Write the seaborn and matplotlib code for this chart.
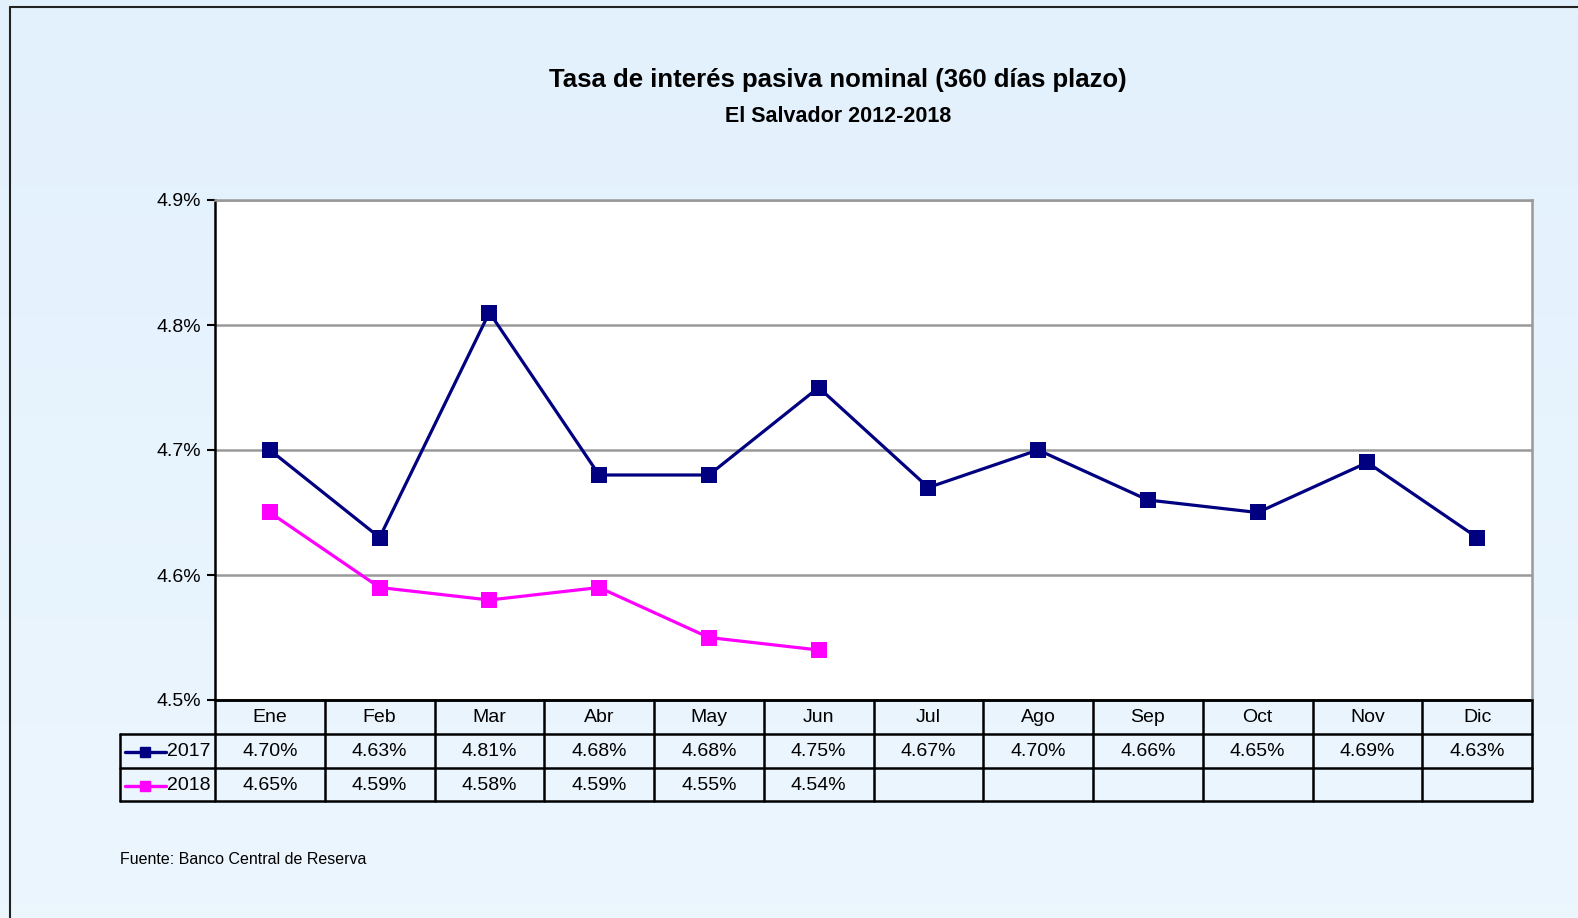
import numpy as np
import pandas as pd
import matplotlib
matplotlib.use("Agg")
import matplotlib.pyplot as plt
import matplotlib.transforms as mtransforms
import seaborn as sns

# data
months = ['Ene', 'Feb', 'Mar', 'Abr', 'May', 'Jun', 'Jul', 'Ago', 'Sep', 'Oct', 'Nov', 'Dic']
rate_2017 = [4.70, 4.63, 4.81, 4.68, 4.68, 4.75, 4.67, 4.70, 4.66, 4.65, 4.69, 4.63]
rate_2018 = [4.65, 4.59, 4.58, 4.59, 4.55, 4.54]
series_names = ['2017', '2018']
series_colors = ['#000080', '#FF00FF']
y_ticks = [4.5, 4.6, 4.7, 4.8, 4.9]

sns.set_style("white")
plt.rcParams['font.family'] = ['Liberation Sans Narrow', 'Liberation Sans', 'DejaVu Sans']
plt.rcParams['text.color'] = 'black'
plt.rcParams['ytick.color'] = 'black'
plt.rcParams['xtick.color'] = 'black'

W, H = 1578, 918
fig = plt.figure(figsize=(W / 100, H / 100), dpi=100)

# gradient background
bg = fig.add_axes([0, 0, 1, 1], zorder=-10)
grad = np.linspace(0, 1, 256).reshape(-1, 1)
top = np.array([0.890, 0.945, 0.992])
bot = np.array([0.925, 0.965, 0.996])
img = top + (bot - top) * grad[:, :, None] * np.ones((1, 1, 3))
bg.imshow(img.reshape(256, 1, 3), aspect='auto', extent=[0, 1, 0, 1])
bg.set_xlim(0, 1)
bg.set_ylim(0, 1)
bg.axis('off')
# outer frame (left and top edges)
bg.plot([10 / W, 10 / W], [0, 1 - 7 / H], color='#222222', lw=1.5)
bg.plot([10 / W, 1], [1 - 7 / H, 1 - 7 / H], color='#222222', lw=1.5)

# plot area in pixels
x0, x1, y_top, y_bot = 215, 1532, 200, 700
ax = fig.add_axes([x0 / W, 1 - y_bot / H, (x1 - x0) / W, (y_bot - y_top) / H])
ax.set_facecolor('white')

df = pd.DataFrame({
    'mes': list(range(len(rate_2017))) + list(range(len(rate_2018))),
    'tasa': rate_2017 + rate_2018,
    'serie': ['2017'] * len(rate_2017) + ['2018'] * len(rate_2018),
})
sns.lineplot(data=df, x='mes', y='tasa', hue='serie', palette=dict(zip(series_names, series_colors)),
             marker='s', markersize=11, markeredgewidth=0, linewidth=2.3, ax=ax, legend=False, zorder=3)

ax.set_xlim(-0.5, len(months) - 0.5)
ax.set_ylim(4.5, 4.9)
ax.set_yticks(y_ticks)
ax.set_yticklabels([f'{v:.1f}%' for v in y_ticks], fontsize=14)
ax.set_xticks([])
ax.set_xlabel('')
ax.set_ylabel('')
ax.yaxis.grid(True, color='#999999', lw=1.8)
ax.tick_params(axis='y', length=6, width=1.5, color='black', direction='out', pad=4, left=True)
for side in ['top', 'right']:
    ax.spines[side].set_color('#999999')
    ax.spines[side].set_linewidth(1.8)
for side in ['left', 'bottom']:
    ax.spines[side].set_color('black')
    ax.spines[side].set_linewidth(1.8)

# data table below the axes
trans = mtransforms.blended_transform_factory(ax.transData, fig.transFigure)
def fy(py):
    return 1 - py / H
col_w = (x1 - x0) / len(months)
def dx(px):
    return -0.5 + (px - x0) / col_w

rows = [700, 734, 768, 801]
lk = dict(color='black', lw=1.8, transform=trans, clip_on=False)
xr = len(months) - 0.5
# horizontal lines
ax.plot([-0.5, xr], [fy(rows[0])] * 2, **lk)
for r in rows[1:]:
    ax.plot([dx(120), xr], [fy(r)] * 2, **lk)
# vertical lines
for i in range(len(months) + 1):
    ax.plot([i - 0.5] * 2, [fy(rows[0]), fy(rows[3])], **lk)
ax.plot([dx(120)] * 2, [fy(rows[1]), fy(rows[3])], **lk)

for i, m in enumerate(months):
    ax.text(i, fy((rows[0] + rows[1]) / 2 + 1), m, ha='center', va='center', fontsize=14, transform=trans)
for s, (vals, name, col) in enumerate(zip([rate_2017, rate_2018], series_names, series_colors)):
    yc = fy((rows[s + 1] + rows[s + 2]) / 2 + 1)
    for i, v in enumerate(vals):
        ax.text(i, yc, f'{v:.2f}%', ha='center', va='center', fontsize=14, transform=trans)
    ax.plot([dx(125), dx(166)], [yc, yc], color=col, lw=2.4, transform=trans, clip_on=False)
    ax.plot([dx(145)], [yc], marker='s', markersize=7, color=col, transform=trans, clip_on=False)
    ax.text(dx(211), yc, name, ha='right', va='center', fontsize=14, transform=trans)

fig.text(838 / W, 1 - 80 / H, 'Tasa de interés pasiva nominal (360 días plazo)', ha='center', va='center',
         fontsize=18.5, fontweight='bold')
fig.text(838 / W, 1 - 117 / H, 'El Salvador 2012-2018', ha='center', va='center', fontsize=15.5, fontweight='bold')
fig.text(120 / W, 1 - 860 / H, 'Fuente: Banco Central de Reserva', ha='left', va='center', fontsize=11.5)

fig.savefig('out.png', dpi=100)
